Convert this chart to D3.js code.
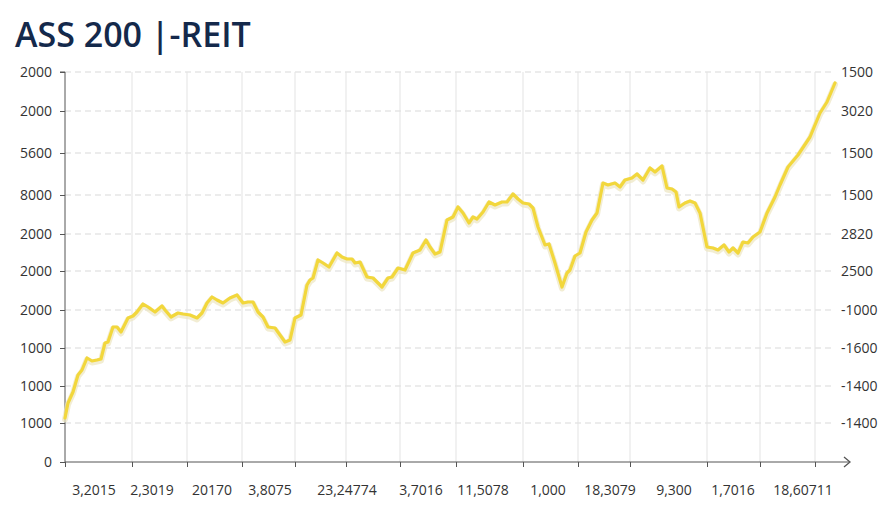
<!DOCTYPE html>
<html>
<head>
<meta charset="utf-8">
<script src="https://cdn.jsdelivr.net/npm/d3@7"></script>
<style>
  html, body { margin: 0; padding: 0; background: #fff; }
  svg { display: block; }
  text { font-family: "Open Sans", "Noto Sans", sans-serif; }
</style>
</head>
<body>
<svg id="chart" width="896" height="512"></svg>
<script>
// ---- data ----
const title = "ASS 200 |-REIT";

// series: x position (period units) and value (chart units)
const seriesX = [0,3,8,13,17,22,27,32,36,40,43,48,52,56,63,68,72,78,83,90,97,100,106,113,118,125,132,137,142,147,152,158,165,172,178,183,188,193,198,203,210,215,220,225,230,236,242,245,248,253,258,264,272,277,282,287,290,295,302,308,317,323,327,333,340,348,355,361,365,370,375,382,388,393,398,404,408,412,418,424,430,437,442,448,453,458,464,468,473,480,484,490,497,502,505,510,515,521,527,532,538,543,550,555,560,567,572,578,585,590,597,602,607,611,614,620,625,630,635,642,648,653,659,664,668,673,678,683,688,695,702,710,715,723,733,745,755,762,770];
const seriesY = [44,59,70,87,92,104,101,102,103,119,120,135,135,130,144,146,150,158,155,150,156,152,145,149,148,147,144,149,159,165,162,159,164,167,159,160,160,150,145,135,134,127,120,122,144,147,177,182,184,202,199,195,209,205,203,203,199,200,185,184,175,184,185,194,192,209,212,222,215,208,210,242,245,255,249,239,245,243,250,260,257,260,260,268,263,259,258,254,235,217,218,199,175,189,192,206,209,230,242,249,279,277,279,275,282,284,288,282,294,290,296,274,273,270,255,259,261,259,249,215,214,212,217,210,214,209,220,219,225,230,249,265,277,295,307,325,349,360,379];

// y axis tick positions and labels
const yTickValues = [0, 39, 76, 114, 152, 191, 228, 267, 309, 351, 390];
const yLeftLabels = ["0","1000","1000","1000","2000","2000","2000","8000","5600","2000","2000"];
const yRightLabels = ["","-1400","-1400","-1600","-1000","2500","2820","1500","1500","3020","1500"];

// x axis tick positions and labels
const xTickValues = [0, 67, 122, 177, 230, 281, 335, 391, 458, 513, 565, 642, 695, 750];
const xLabelPositions = [29, 87, 147, 205, 282, 356, 418, 483, 545, 609, 668, 738];
const xLabels = ["3,2015","2,3019","20170","3,8075","23,24774","3,7016","11,5078","1,000","18,3079","9,300","1,7016","18,60711"];

// ---- chart ----
const svg = d3.select("#chart");
const mLeft = 65, mRight = 850, mTop = 72, mBottom = 462, gridRight = 833;

const x = d3.scaleLinear().domain([0, 785]).range([mLeft, mRight]);
const y = d3.scaleLinear().domain([0, 390]).range([mBottom, mTop]);

svg.append("text")
  .attr("x", 15).attr("y", 47)
  .attr("font-size", 34).attr("font-weight", 600)
  .attr("fill", "#14294b")
  .text(title);

// horizontal dashed grid
svg.append("g").selectAll("line")
  .data(yTickValues.slice(1))
  .join("line")
  .attr("x1", mLeft).attr("x2", gridRight)
  .attr("y1", d => y(d)).attr("y2", d => y(d))
  .attr("stroke", "#d9d9d9").attr("stroke-width", 1)
  .attr("stroke-dasharray", "6,4");

// vertical grid
svg.append("g").selectAll("line")
  .data(xTickValues.slice(1))
  .join("line")
  .attr("x1", d => x(d)).attr("x2", d => x(d))
  .attr("y1", mTop).attr("y2", mBottom)
  .attr("stroke", "#e3e3e3").attr("stroke-width", 1);

// left axis
const yAxisL = d3.axisLeft(y).tickValues(yTickValues)
  .tickFormat((d, i) => yLeftLabels[i]).tickSize(5).tickPadding(8);
const gL = svg.append("g").attr("transform", `translate(${mLeft},0)`).call(yAxisL);
gL.select(".domain").attr("stroke", "#555").attr("d", `M-5,${mTop}H0V${mBottom}`);
gL.selectAll(".tick line").attr("stroke", "#555");
gL.selectAll(".tick text").attr("font-size", 14).attr("fill", "#333")
  .attr("font-family", "'Open Sans', 'Noto Sans', sans-serif");

// right labels
const yAxisR = d3.axisRight(y).tickValues(yTickValues)
  .tickFormat((d, i) => yRightLabels[i]).tickSize(0).tickPadding(8);
const gR = svg.append("g").attr("transform", `translate(${gridRight},0)`).call(yAxisR);
gR.select(".domain").remove();
gR.selectAll(".tick text").attr("font-size", 14).attr("fill", "#333")
  .attr("font-family", "'Open Sans', 'Noto Sans', sans-serif");

// bottom axis
const xAxis = d3.axisBottom(x).tickValues(xTickValues).tickFormat("").tickSize(5);
const gB = svg.append("g").attr("transform", `translate(0,${mBottom})`).call(xAxis);
gB.select(".domain").attr("stroke", "#555").attr("d", `M${mLeft},0H${mRight - 1}`);
gB.selectAll(".tick line").attr("stroke", "#555");
// arrow head
svg.append("path")
  .attr("d", d3.line()([[x(779), mBottom - 5], [x(785), mBottom], [x(779), mBottom + 5]]))
  .attr("fill", "none").attr("stroke", "#555").attr("stroke-width", 1.3);

svg.append("g").selectAll("text")
  .data(xLabels)
  .join("text")
  .attr("x", (d, i) => x(xLabelPositions[i]))
  .attr("y", 495)
  .attr("text-anchor", "middle")
  .attr("font-size", 14).attr("fill", "#333")
  .text(d => d);

// line
const pts = seriesX.map((d, i) => [d, seriesY[i]]);
const line = d3.line().x(d => x(d[0])).y(d => y(d[1])).curve(d3.curveLinear);

svg.append("path").datum(pts)
  .attr("d", line)
  .attr("fill", "none").attr("stroke", "#ece6c0").attr("stroke-width", 6)
  .attr("stroke-linejoin", "round").attr("stroke-linecap", "round")
  .attr("opacity", 0.7).attr("transform", "translate(0,1.5)");
svg.append("path").datum(pts)
  .attr("d", line)
  .attr("fill", "none").attr("stroke", "#f2d73c").attr("stroke-width", 3.2)
  .attr("stroke-linejoin", "round").attr("stroke-linecap", "round");
</script>
</body>
</html>
